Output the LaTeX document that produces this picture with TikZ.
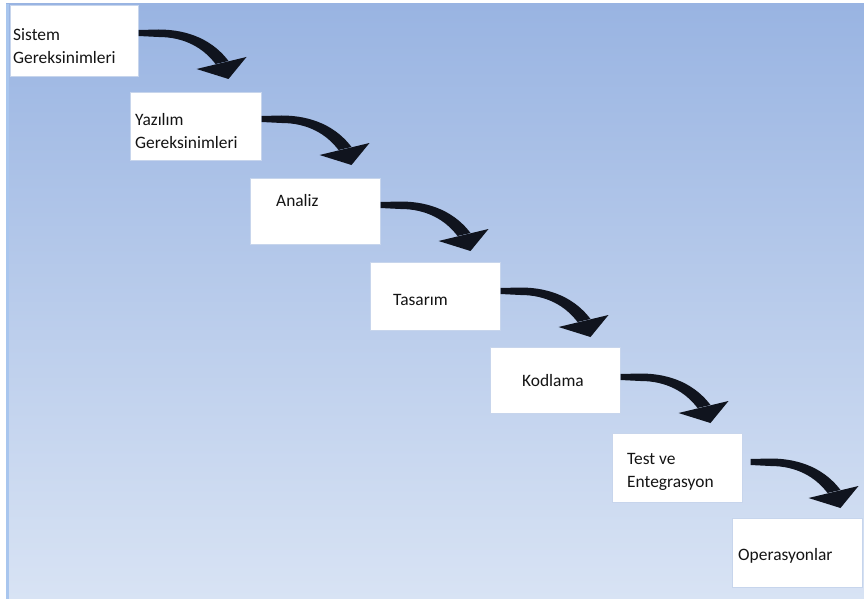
\documentclass[tikz,border=0pt]{standalone}
\usepackage{fontspec}
\setmainfont{Carlito}
\definecolor{stageedge}{HTML}{C7D5EC}
\definecolor{stagetext}{HTML}{141414}
\definecolor{arrowink}{HTML}{10141E}
\definecolor{bgtop}{HTML}{99B4E2}
\definecolor{bgbottom}{HTML}{D8E3F4}
\definecolor{edgeline}{HTML}{A9C6EE}
\begin{document}
\begin{tikzpicture}[x=1pt,y=-1pt,
  stage/.style={draw=stageedge,line width=1pt,fill=white,rectangle,inner sep=0pt},
  label/.style={anchor=base west,inner sep=0pt,text=stagetext,
    font=\fontsize{17.4}{23}\selectfont,align=left},
  bend/.pic={
    % tapered curved shaft
    \fill[arrowink] (0,-3) -- (20,-3.5) .. controls (51,-3.5) and (75,8) .. (90,28)
      -- (77,31) .. controls (65,15) and (46,4) .. (20,4) -- (0,3) -- cycle;
    % wide arrow head
    \fill[arrowink] (58,36) -- (108,24) -- (90,46) -- cycle;
  }]
\useasboundingbox (0,0) rectangle (864,599);
% page background with vertical gradient
\fill[white] (0,0) rectangle (864,599);
\shade[top color=bgtop,bottom color=bgbottom] (6,4) rectangle (864,599);
\fill[edgeline] (6,4) rectangle (9,599);

% stage boxes
\node[stage,minimum width=128pt,minimum height=71pt] (b1) at (74,41.5) {};
\node[stage,minimum width=131pt,minimum height=67pt] (b2) at (195.5,126.5) {};
\node[stage,minimum width=130pt,minimum height=66pt] (b3) at (315,211) {};
\node[stage,minimum width=130pt,minimum height=68pt] (b4) at (435,296) {};
\node[stage,minimum width=130pt,minimum height=66pt] (b5) at (555,380) {};
\node[stage,minimum width=130pt,minimum height=69pt] (b6) at (677,467.5) {};
\node[stage,minimum width=130pt,minimum height=69pt] (b7) at (797,552.5) {};

% stage labels (base anchor sits on the last line)
\node[label] (t1) at (13,63.5) {Sistem\\Gereksinimleri};
\node[label] (t2) at (135,148) {Yazılım\\Gereksinimleri};
\node[label] (t3) at (276,206) {Analiz};
\node[label] (t4) at (393,305) {Tasarım};
\node[label] (t5) at (522,386) {Kodlama};
\node[label] (t6) at (627,487) {Test ve\\Entegrasyon};
\node[label] (t7) at (738,560) {Operasyonlar};

% curved arrows leading from each stage to the next
\coordinate (a1) at (b1.east |- 0,33);
\coordinate (a2) at (b2.east |- 0,119);
\coordinate (a3) at (b3.east |- 0,205);
\coordinate (a4) at (b4.east |- 0,291);
\coordinate (a5) at (b5.east |- 0,377);
\coordinate (a6) at ([xshift=8pt]b6.east |- 0,462);
\foreach \s in {a1,a2,a3,a4,a5,a6}
  \pic at (\s) {bend};
\end{tikzpicture}
\end{document}
